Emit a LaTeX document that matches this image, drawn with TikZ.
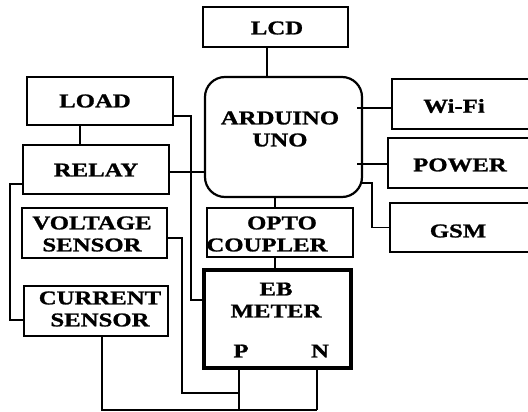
\documentclass[tikz,border=0pt]{standalone}
\usepackage{fontspec}
\setmainfont{Liberation Serif}[FakeStretch=1.27,BoldFeatures={FakeBold=1.2}]
\begin{document}
\begin{tikzpicture}[x=1pt,y=-1pt,
  box/.style={draw, line width=1.6pt, inner sep=0pt},
  lbl/.style={inner sep=0pt, align=center, font=\bfseries\fontsize{19.5}{22}\selectfont},
  wire/.style={line width=1.6pt}]
\useasboundingbox (0,0) rectangle (528,412);
\clip (0,0) rectangle (528,412);
% boxes
\node[box, minimum width=145, minimum height=40] (lcd) at (275.5,27) {};
\node[box, rounded corners=20pt, line width=2.2pt, minimum width=157, minimum height=120] (ard) at (283.5,137) {};
\node[box, minimum width=142, minimum height=50] (wifi) at (463,104) {};
\node[box, minimum width=146, minimum height=50] (power) at (461,163) {};
\node[box, minimum width=144, minimum height=49] (gsm) at (462,227.5) {};
\node[box, minimum width=146, minimum height=48] (load) at (100,101) {};
\node[box, minimum width=146, minimum height=49] (relay) at (96,169.5) {};
\node[box, minimum width=145, minimum height=50] (volt) at (94.5,233) {};
\node[box, minimum width=146, minimum height=49] (opto) at (280,232.5) {};
\node[box, line width=4pt, minimum width=147, minimum height=98] (eb) at (277.5,319) {};
\node[box, minimum width=144, minimum height=50] (curr) at (96,311) {};
% texts
\node[lbl] (lcdt) at (277,28) {LCD};
\node[lbl] (ardt) at (280,129) {ARDUINO\\UNO};
\node[lbl] (wifit) at (454,106) {Wi-Fi};
\node[lbl] (powert) at (460,165) {POWER};
\node[lbl] (gsmt) at (458,231) {GSM};
\node[lbl] (loadt) at (95,101) {LOAD};
\node[lbl] (relayt) at (96,170) {RELAY};
\node[lbl] (voltt) at (92,234) {VOLTAGE\\SENSOR};
\node[lbl] (optot) at (267,234) {\hspace*{30pt}OPTO\\COUPLER};
\node[lbl] (ebt) at (276,300) {EB\\METER};
\node[lbl] (pt) at (241,351) {P};
\node[lbl] (nt) at (320,351) {N};
\node[lbl] (currt) at (100,309) {CURRENT\\SENSOR};
% helper coordinates
\coordinate (xl) at (267,0);
\coordinate (xo) at (275,0);
\coordinate (xr) at (80,0);
\coordinate (xp) at (239,0);
\coordinate (xn) at (317,0);
\coordinate (xc) at (102,0);
\coordinate (bot) at (0,410);
\coordinate (wy) at (357,108);
\coordinate (py) at (357,164);
\coordinate (g1) at (360,183);
\coordinate (gx) at (372,200);
\coordinate (ry) at (0,172);
\coordinate (l1) at (0,116);
\coordinate (lb) at (191,300);
\coordinate (rc) at (10,184);
\coordinate (rc2) at (10,320);
\coordinate (v1) at (182,238);
\coordinate (v2) at (182,393);
% connectors
\draw[wire] (lcd.south -| xl) -- (ard.north -| xl);
\draw[wire] (wy) -- (wy -| wifi.west);
\draw[wire] (py) -- (py -| power.west);
\draw[wire] (g1) -| (gx) |- (gsm.west);
\draw[wire] (ard.south -| xo) -- (opto.north -| xo);
\draw[wire] (opto.south -| xo) -- (eb.north -| xo);
\draw[wire] (relay.east |- ry) -- (ard.west |- ry);
\draw[wire] (load.south -| xr) -- (relay.north -| xr);
\draw[wire] (load.east |- l1) -| (lb) -- (lb -| eb.west);
\draw[wire] (relay.west |- rc) -- (rc) -- (rc2) -- (rc2 -| curr.west);
\draw[wire] (volt.east |- v1) -- (v1) -- (v2) -- (v2 -| xp);
\draw[wire] (eb.south -| xp) -- (bot -| xp);
\draw[wire] (eb.south -| xn) -- (bot -| xn);
\draw[wire] (curr.south -| xc) -- (bot -| xc) -- (bot -| xn);
\end{tikzpicture}
\end{document}
